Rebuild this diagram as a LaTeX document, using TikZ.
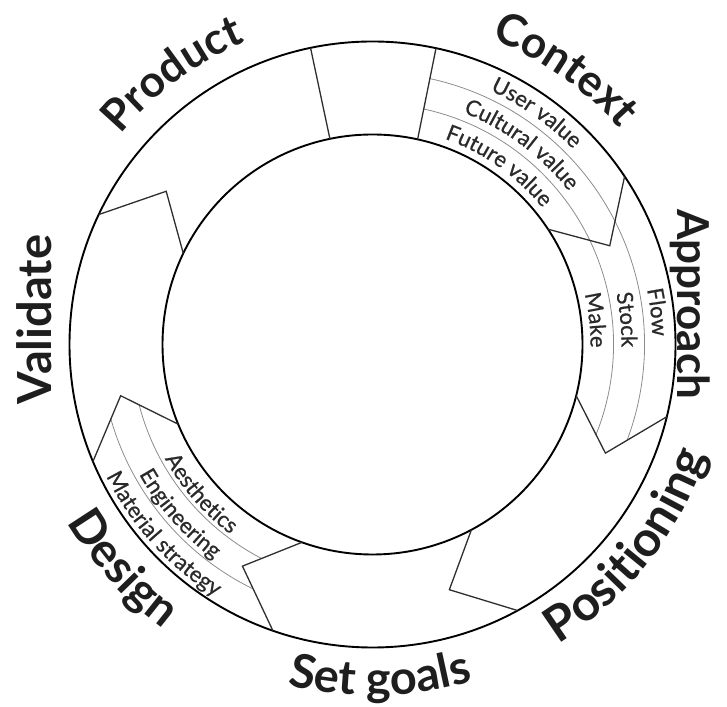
\documentclass[tikz,border=0pt]{standalone}
\usepackage{fontspec}
\setmainfont{Lato}
\newfontfamily\smallfam[FakeBold=0.7]{Lato}
\usetikzlibrary{decorations.text}
\definecolor{ink}{HTML}{1E1E1E}
\definecolor{chevcol}{HTML}{2E2E2E}
\definecolor{bandcol}{HTML}{8C8C8C}
\definecolor{smalltxt}{HTML}{2A2A2A}
\newcommand\bigfont{\fontsize{44}{50}\selectfont\bfseries\color{ink}}
\newcommand\biggerfont{\fontsize{47}{52}\selectfont\bfseries\color{ink}}
\newcommand\posfont{\fontsize{49}{54}\selectfont\bfseries\color{ink}}
\newcommand\smallfont{\smallfam\fontsize{22}{25}\selectfont\color{smalltxt}}
\newcommand\cwtext[4]{\path[decorate,decoration={text along path,text align=center,text={|#3|#4}}] ({#1+45}:#2) arc[start angle={#1+45}, end angle={#1-45}, radius=#2];}
\newcommand\ccwtext[4]{\path[decorate,decoration={text along path,text align=center,text={|#3|#4}}] ({#1-45}:#2) arc[start angle={#1-45}, end angle={#1+45}, radius=#2];}
\tikzset{
  ring/.style={line width=1.9pt, draw=black},
  chev/.style={line width=1.3pt, draw=chevcol, line join=miter},
  bandline/.style={line width=0.8pt, draw=bandcol},
  bigtxt/.style={inner sep=0pt},
}
\begin{document}
\begin{tikzpicture}[x=1pt,y=1pt]
\useasboundingbox (0,0) rectangle (727,706);
\begin{scope}[shift={(372.5,361.5)}]
  % chevron coordinates
  \coordinate (c1o) at (33.7:303pt);  \coordinate (c1v) at (22.6:257pt);  \coordinate (c1i) at (33.3:210pt);
  \coordinate (c2o) at (-13.8:303pt); \coordinate (c2v) at (-25.0:257pt); \coordinate (c2i) at (-14.1:210pt);
  \coordinate (c3o) at (-61.4:303pt); \coordinate (c3v) at (-72.6:257pt); \coordinate (c3i) at (-61.9:210pt);
  \coordinate (c4o) at (-109.2:303pt); \coordinate (c4v) at (-120.4:257pt); \coordinate (c4i) at (-109.6:210pt);
  \coordinate (c5o) at (-157.3:303pt); \coordinate (c5v) at (-168.5:257pt); \coordinate (c5i) at (-157.7:210pt);
  \coordinate (c6o) at (154.6:303pt); \coordinate (c6v) at (143.4:257pt); \coordinate (c6i) at (154.3:210pt);
  \coordinate (l1o) at (101.8:303pt); \coordinate (l1i) at (101.7:210pt);
  \coordinate (l2o) at (77.9:303pt);  \coordinate (l2i) at (77.6:210pt);
  % bands of Context and Approach
  \begin{scope}
    \clip (0,0) -- (77.8:400pt) arc[start angle=77.8, end angle=-13.8, radius=400pt] -- (c2o) -- (c2v) -- (c2i) -- cycle;
    \draw[bandline] (77.8:241pt) arc[start angle=77.8, end angle=-40, radius=241pt];
    \draw[bandline] (77.8:272pt) arc[start angle=77.8, end angle=-40, radius=272pt];
  \end{scope}
  % bands of Design
  \begin{scope}
    \clip (0,0) -- (c4i) -- (c4v) -- (c4o) -- (-109.2:400pt) arc[start angle=-109.2, end angle=-157.3, radius=400pt] -- (c5o) -- (c5v) -- (c5i) -- cycle;
    \draw[bandline] (-100:241pt) arc[start angle=-100, end angle=-180, radius=241pt];
    \draw[bandline] (-100:272pt) arc[start angle=-100, end angle=-180, radius=272pt];
  \end{scope}
  % ring
  \draw[ring] (0,0) circle[radius=303pt];
  \draw[ring] (0,0) circle[radius=210pt];
  % separators
  \draw[chev] (c1o) -- (c1v) -- (c1i);
  \draw[chev] (c2o) -- (c2v) -- (c2i);
  \draw[chev] (c3o) -- (c3v) -- (c3i);
  \draw[chev] (c4o) -- (c4v) -- (c4i);
  \draw[chev] (c5o) -- (c5v) -- (c5i);
  \draw[chev] (c6o) -- (c6v) -- (c6i);
  \draw[chev] (l1o) -- (l1i);
  \draw[chev] (l2o) -- (l2i);
  % small labels
  \cwtext{54.7}{280pt}{\smallfont}{User value}
  \cwtext{53.3}{249pt}{\smallfont}{Cultural value}
  \cwtext{54.7}{218pt}{\smallfont}{Future value}
  \cwtext{6.5}{280pt}{\smallfont}{Flow}
  \cwtext{5.6}{249pt}{\smallfont}{Stock}
  \cwtext{6.3}{218pt}{\smallfont}{Make}
  \ccwtext{-139}{237pt}{\smallfont}{Aesthetics}
  \ccwtext{-138.7}{267pt}{\smallfont}{Engineering}
  \ccwtext{-137.8}{297pt}{\smallfont}{Material strategy}
  % big labels
  \cwtext{126.5}{328pt}{\bigfont}{Product}
  \cwtext{55}{328pt}{\bigfont}{Context}
  \ccwtext{-38.3}{352pt}{\posfont}{Positioning}
  \ccwtext{-88.7}{351pt}{\biggerfont}{Set goals}
  \ccwtext{-138.1}{353pt}{\biggerfont}{Design}
\end{scope}
\node[bigtxt, font=\bigfont, rotate=-90, anchor=base] (approach) at (677,402) {Approach};
\node[bigtxt, font=\biggerfont, rotate=90, anchor=base] (validate) at (51,386.5) {Validate};
\end{tikzpicture}
\end{document}
